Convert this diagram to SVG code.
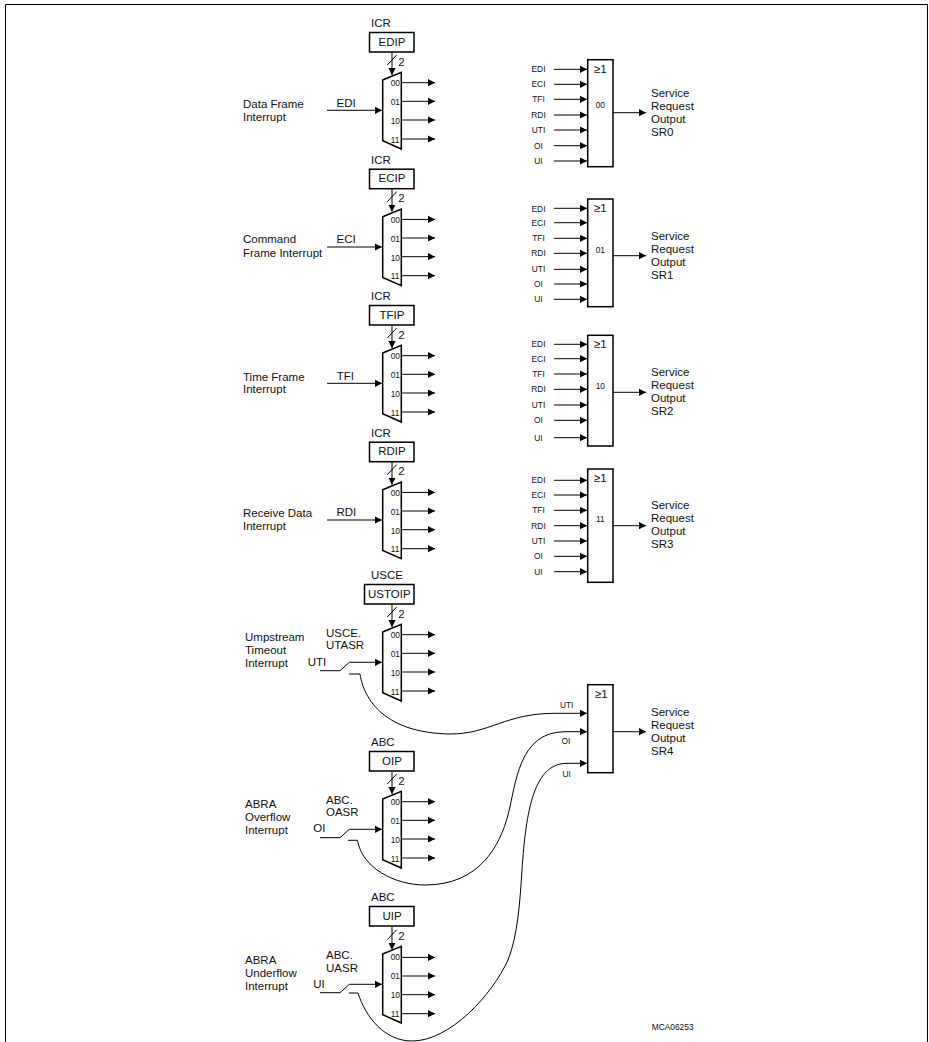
<svg xmlns="http://www.w3.org/2000/svg" xmlns:xlink="http://www.w3.org/1999/xlink" width="929" height="1042" viewBox="0 0 929 1042">
<style>
text{font-family:"Liberation Sans",Arial,sans-serif;font-size:11.5px;fill:#111}
.s{font-size:8.4px}
.m{text-anchor:middle}
.b{fill:#fff;stroke:#000;stroke-width:1.5}
.w{fill:none;stroke:#000;stroke-width:1}
.a{marker-end:url(#arrow)}
</style>
<defs>
<marker id="arrow" markerUnits="userSpaceOnUse" markerWidth="8" markerHeight="8" refX="7" refY="4" orient="auto"><path d="M0 0.4L7 4L0 7.6z" fill="#000"/></marker>
<polygon id="trap" class="b" points="382.7,80 401.3,72.3 401.3,149 382.7,140.7"/>
<g id="muxw" class="w">
<path class="w a" d="M392 52.3V75"/>
<path class="w" d="M387.3 65L396.7 55"/>
<path class="w a" d="M401.3 82.7H435"/>
<path class="w a" d="M401.3 101.3H435"/>
<path class="w a" d="M401.3 120H435"/>
<path class="w a" d="M401.3 139H435"/>
</g>
<g id="muxl">
<text class="s" x="390.7" y="86">00</text>
<text class="s" x="390.7" y="105">01</text>
<text class="s" x="390.7" y="124">10</text>
<text class="s" x="390.7" y="142.5">11</text>
<text x="398.3" y="65.7">2</text>
</g>
<g id="sw" class="w">
<path class="w" d="M320 118.7H340L349.3 110.3"/>
<path class="w a" d="M349.3 110.3H382"/>
</g>
</defs>
<rect width="929" height="1042" fill="#fff"/>
<path id="frame" d="M5.5 1042V4.5H927.5V1042" fill="none" stroke="#000" stroke-width="1"/>

<g id="connectors">
<use xlink:href="#muxw" href="#muxw"/>
<use xlink:href="#muxw" href="#muxw" y="136.7"/>
<use xlink:href="#muxw" href="#muxw" y="273"/>
<use xlink:href="#muxw" href="#muxw" y="409.7"/>
<use xlink:href="#muxw" href="#muxw" y="552"/>
<use xlink:href="#muxw" href="#muxw" y="719"/>
<use xlink:href="#muxw" href="#muxw" y="874.7"/>
<path class="w a" d="M327 110.3H382"/>
<path class="w a" d="M327 247H382"/>
<path class="w a" d="M327 383.3H382"/>
<path class="w a" d="M327 520H382"/>
<use xlink:href="#sw" href="#sw" y="552"/>
<use xlink:href="#sw" href="#sw" y="719"/>
<use xlink:href="#sw" href="#sw" y="874"/>
<path class="w a" d="M349 674H360C364 700 385 733 450 734C490 734 505 713.3 555 713.3H587"/>
<path class="w a" d="M348 840.3H357.5C362 868 395 885 425 885C480 885 500 845 508 815C516 785 518 731.7 565 731.7H587"/>
<path class="w a" d="M349 993H358C366 1018 385 1041 412 1041C450 1041 492 995 508 960C518 935 520 900 522 870C526 810 534 763.3 567 763.3H587"/>
<path class="w a" d="M554 69.3H587"/><path class="w a" d="M554 84.3H587"/><path class="w a" d="M554 99.3H587"/><path class="w a" d="M554 115H587"/><path class="w a" d="M554 130H587"/><path class="w a" d="M554 145.7H587"/><path class="w a" d="M554 161H587"/>
<path class="w a" d="M613 112.7H646"/>
<path class="w a" d="M554 208.3H587"/><path class="w a" d="M554 222.7H587"/><path class="w a" d="M554 238.3H587"/><path class="w a" d="M554 253.3H587"/><path class="w a" d="M554 269.3H587"/><path class="w a" d="M554 284H587"/><path class="w a" d="M554 299.3H587"/>
<path class="w a" d="M613 255.7H646"/>
<path class="w a" d="M554 344.3H587"/><path class="w a" d="M554 358.7H587"/><path class="w a" d="M554 374H587"/><path class="w a" d="M554 389.3H587"/><path class="w a" d="M554 405H587"/><path class="w a" d="M554 420.3H587"/><path class="w a" d="M554 437.7H587"/>
<path class="w a" d="M613 392.3H646"/>
<path class="w a" d="M554 480.3H587"/><path class="w a" d="M554 495H587"/><path class="w a" d="M554 510.3H587"/><path class="w a" d="M554 525.7H587"/><path class="w a" d="M554 541H587"/><path class="w a" d="M554 556.3H587"/><path class="w a" d="M554 571.7H587"/>
<path class="w a" d="M613 525.7H646"/>
<path class="w a" d="M613 731.7H646"/>
</g>

<g id="mux-edip"><text x="371" y="27.3">ICR</text><rect class="b" x="369.5" y="32.5" width="44.5" height="19.5"/><text class="m" x="392" y="45.5">EDIP</text><use xlink:href="#trap" href="#trap"/><use xlink:href="#muxl" href="#muxl"/></g>
<g id="mux-ecip" transform="translate(0,136.7)"><text x="371" y="27.3">ICR</text><rect class="b" x="369.5" y="32.5" width="44.5" height="19.5"/><text class="m" x="392" y="45.5">ECIP</text><use xlink:href="#trap" href="#trap"/><use xlink:href="#muxl" href="#muxl"/></g>
<g id="mux-tfip" transform="translate(0,273)"><text x="371" y="27.3">ICR</text><rect class="b" x="369.5" y="32.5" width="44.5" height="19.5"/><text class="m" x="392" y="45.5">TFIP</text><use xlink:href="#trap" href="#trap"/><use xlink:href="#muxl" href="#muxl"/></g>
<g id="mux-rdip" transform="translate(0,409.7)"><text x="371" y="27.3">ICR</text><rect class="b" x="369.5" y="32.5" width="44.5" height="19.5"/><text class="m" x="392" y="45.5">RDIP</text><use xlink:href="#trap" href="#trap"/><use xlink:href="#muxl" href="#muxl"/></g>
<g id="mux-ustoip" transform="translate(0,552)"><text x="371" y="27.3">USCE</text><rect class="b" x="364.5" y="32.5" width="49.5" height="19.5"/><text class="m" x="389.3" y="45.5">USTOIP</text><use xlink:href="#trap" href="#trap"/><use xlink:href="#muxl" href="#muxl"/></g>
<g id="mux-oip" transform="translate(0,719)"><text x="371" y="27.3">ABC</text><rect class="b" x="369.5" y="32.5" width="44.5" height="19.5"/><text class="m" x="392" y="45.5">OIP</text><use xlink:href="#trap" href="#trap"/><use xlink:href="#muxl" href="#muxl"/></g>
<g id="mux-uip" transform="translate(0,874)"><text x="371" y="27.3">ABC</text><rect class="b" x="369.5" y="32.5" width="44.5" height="19.5"/><text class="m" x="392" y="45.5">UIP</text><use xlink:href="#trap" href="#trap"/><use xlink:href="#muxl" href="#muxl"/></g>

<g id="src-edi"><text x="243" y="107.7">Data Frame</text><text x="243" y="121">Interrupt</text><text x="336.5" y="106.7">EDI</text></g>
<g id="src-eci"><text x="243" y="243.3">Command</text><text x="243" y="256.7">Frame Interrupt</text><text x="336.5" y="243.3">ECI</text></g>
<g id="src-tfi"><text x="243" y="380.7">Time Frame</text><text x="243" y="393.3">Interrupt</text><text x="336.7" y="380">TFI</text></g>
<g id="src-rdi"><text x="243" y="516.7">Receive Data</text><text x="243" y="530">Interrupt</text><text x="336.5" y="516">RDI</text></g>
<g id="src-uti"><text x="245" y="640.7">Umpstream</text><text x="245" y="653.7">Timeout</text><text x="245" y="666.7">Interrupt</text><text x="326" y="636.7">USCE.</text><text x="326" y="649">UTASR</text><text x="307.7" y="666">UTI</text></g>
<g id="src-oi"><text x="245" y="807.7">ABRA</text><text x="245" y="820.7">Overflow</text><text x="245" y="833.7">Interrupt</text><text x="326" y="803.7">ABC.</text><text x="326" y="816">OASR</text><text x="313.3" y="832">OI</text></g>
<g id="src-ui"><text x="245" y="964">ABRA</text><text x="245" y="977">Underflow</text><text x="245" y="990">Interrupt</text><text x="326" y="959.3">ABC.</text><text x="326" y="971.7">UASR</text><text x="313.3" y="987.7">UI</text></g>

<g id="or-sr0"><rect class="b" x="587.7" y="59.7" width="25.3" height="107"/><text x="594" y="72.7">≥1</text><text class="s m" x="600.3" y="108.3">00</text>
<text class="s m" x="538.5" y="72.3">EDI</text><text class="s m" x="538.5" y="87.3">ECI</text><text class="s m" x="538.5" y="102.3">TFI</text><text class="s m" x="538.5" y="118">RDI</text><text class="s m" x="538.5" y="133">UTI</text><text class="s m" x="538.5" y="148.7">OI</text><text class="s m" x="538.5" y="164">UI</text>
<text x="651" y="96.7">Service</text><text x="651" y="110">Request</text><text x="651" y="123">Output</text><text x="651" y="135.7">SR0</text></g>
<g id="or-sr1"><rect class="b" x="587.7" y="199" width="25.3" height="107.7"/><text x="594" y="212">≥1</text><text class="s m" x="600.3" y="252.7">01</text>
<text class="s m" x="538.5" y="211.5">EDI</text><text class="s m" x="538.5" y="225.7">ECI</text><text class="s m" x="538.5" y="241.3">TFI</text><text class="s m" x="538.5" y="256.3">RDI</text><text class="s m" x="538.5" y="272.3">UTI</text><text class="s m" x="538.5" y="287">OI</text><text class="s m" x="538.5" y="302.3">UI</text>
<text x="651" y="240">Service</text><text x="651" y="253">Request</text><text x="651" y="266">Output</text><text x="651" y="279">SR1</text></g>
<g id="or-sr2"><rect class="b" x="587.7" y="335.3" width="25.3" height="110.7"/><text x="594" y="348.3">≥1</text><text class="s m" x="600.3" y="389.3">10</text>
<text class="s m" x="538.5" y="347.3">EDI</text><text class="s m" x="538.5" y="361.7">ECI</text><text class="s m" x="538.5" y="377">TFI</text><text class="s m" x="538.5" y="392.3">RDI</text><text class="s m" x="538.5" y="408">UTI</text><text class="s m" x="538.5" y="423.3">OI</text><text class="s m" x="538.5" y="440.7">UI</text>
<text x="651" y="375.7">Service</text><text x="651" y="389">Request</text><text x="651" y="402">Output</text><text x="651" y="415">SR2</text></g>
<g id="or-sr3"><rect class="b" x="587.7" y="469" width="25.3" height="113.3"/><text x="594" y="482">≥1</text><text class="s m" x="600.3" y="521.7">11</text>
<text class="s m" x="538.5" y="483.3">EDI</text><text class="s m" x="538.5" y="498">ECI</text><text class="s m" x="538.5" y="513.3">TFI</text><text class="s m" x="538.5" y="528.7">RDI</text><text class="s m" x="538.5" y="544">UTI</text><text class="s m" x="538.5" y="559.3">OI</text><text class="s m" x="538.5" y="574.7">UI</text>
<text x="651" y="509">Service</text><text x="651" y="522">Request</text><text x="651" y="535">Output</text><text x="651" y="548.3">SR3</text></g>
<g id="or-sr4"><rect class="b" x="587.7" y="684.7" width="25.3" height="88"/><text x="595" y="697.5">≥1</text>
<text class="s m" x="566.7" y="708.3">UTI</text><text class="s m" x="566" y="744">OI</text><text class="s m" x="566.7" y="776.7">UI</text>
<text x="651" y="716">Service</text><text x="651" y="729">Request</text><text x="651" y="742">Output</text><text x="651" y="755">SR4</text></g>
<text class="s" x="651.7" y="1030">MCA06253</text>
</svg>
